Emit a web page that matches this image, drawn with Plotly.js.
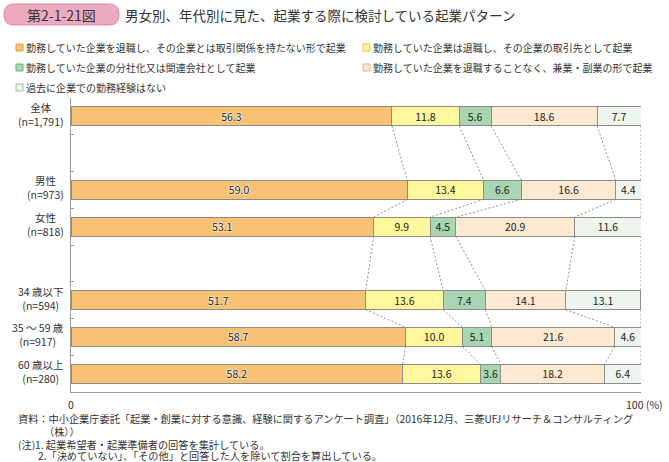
<!DOCTYPE html>
<html><head><meta charset="utf-8">
<script src="https://cdn.plot.ly/plotly-3.0.1.min.js"></script>
<style>html,body{margin:0;padding:0;background:#fff}#chart{width:669px;height:462px}</style>
</head><body><div id="chart"></div>
<script>
// ---- data ----
const groups = ['全体<br>(n=1,791)', '男性<br>(n=973)', '女性<br>(n=818)', '34 歳以下<br>(n=594)', '35 ～ 59 歳<br>(n=917)', '60 歳以上<br>(n=280)'];
const seriesNames = [
  '勤務していた企業を退職し、その企業とは取引関係を持たない形で起業',
  '勤務していた企業は退職し、その企業の取引先として起業',
  '勤務していた企業の分社化又は関連会社として起業',
  '勤務していた企業を退職することなく、兼業・副業の形で起業',
  '過去に企業での勤務経験はない'
];
const s1 = [56.3, 59.0, 53.1, 51.7, 58.7, 58.2];
const s2 = [11.8, 13.4, 9.9, 13.6, 10.0, 13.6];
const s3 = [5.6, 6.6, 4.5, 7.4, 5.1, 3.6];
const s4 = [18.6, 16.6, 20.9, 14.1, 21.6, 18.2];
const s5 = [7.7, 4.4, 11.6, 13.1, 4.6, 6.4];
const series = [s1, s2, s3, s4, s5];
const xTickLabels = ['0', '100 (%)'];
const titleBadge = '第2-1-21図';
const titleText = '男女別、年代別に見た、起業する際に検討している起業パターン';
const notes = [
  '資料：中小企業庁委託「起業・創業に対する意識、経験に関するアンケート調査」（2016年12月、三菱UFJリサーチ＆コンサルティング',
  '（株））',
  '(注)1. 起業希望者・起業準備者の回答を集計している。',
  '2.「決めていない」、「その他」と回答した人を除いて割合を算出している。'
];

// ---- style ----
const fills = ['#F8C173', '#FFF79C', '#A8D5B2', '#FDE9D2', '#EDF5EC'];
const legendBorders = ['#E39A3E', '#D8C83A', '#6FAF7E', '#D9B48E', '#A8B8A8'];
const font = '"Noto Sans CJK JP", "Noto Sans", sans-serif';
const W = 669, H = 462, L = 71, R = 28, T = 98, B = 70;
const pw = W - L - R, ph = H - T - B;
const px = x => (x - L) / pw;
const py = y => (H - B - y) / ph;

// categories with spacer slots
const catArray = [groups[0], ' ', groups[1], groups[2], '  ', groups[3], groups[4], groups[5]];
const half = 0.26;

const traces = series.map((vals, i) => ({
  type: 'bar', orientation: 'h',
  x: vals, y: groups, name: seriesNames[i],
  width: half * 2,
  marker: {color: fills[i], line: {color: '#8c8c8c', width: 1}},
  text: vals.map(v => v.toFixed(1)),
  textposition: 'inside', insidetextanchor: 'middle', textangle: 0,
  textfont: {family: font, size: 10.5, color: '#222',
    shadow: i === 0 ? '0 0 2px #fff, 0 0 2px #fff, 0 0 1px #fff' : 'none'},
  hoverinfo: 'skip', showlegend: false, cliponaxis: false
}));

const shapes = [];
// connector dotted lines between adjacent bars
for (let g = 0; g < groups.length - 1; g++) {
  const yTop = catArray.indexOf(groups[g]) + half;
  const yBot = catArray.indexOf(groups[g + 1]) - half;
  let c1 = 0, c2 = 0;
  for (let k = 0; k < series.length; k++) {
    c1 += series[k][g]; c2 += series[k][g + 1];
    const a = k === series.length - 1 ? 100 : c1;
    const b = k === series.length - 1 ? 100 : c2;
    shapes.push({type: 'line', xref: 'x', yref: 'y', x0: a, x1: b, y0: yTop, y1: yBot,
      line: {color: '#8f8f8f', width: 1, dash: '2px,2px'}, layer: 'below'});
  }
}
// badge
(function () {
  const x0 = 4, x1 = 119, y0 = 4, y1 = 25, r = 10;
  const P = (x, y) => px(x) + ',' + py(y);
  const path = 'M' + P(x0 + r, y0) + ' L' + P(x1 - r, y0) + ' Q' + P(x1, y0) + ' ' + P(x1, y0 + r) +
    ' L' + P(x1, y1 - r) + ' Q' + P(x1, y1) + ' ' + P(x1 - r, y1) + ' L' + P(x0 + r, y1) +
    ' Q' + P(x0, y1) + ' ' + P(x0, y1 - r) + ' L' + P(x0, y0 + r) + ' Q' + P(x0, y0) + ' ' + P(x0 + r, y0) + ' Z';
  shapes.push({type: 'path', xref: 'paper', yref: 'paper', path: path,
    fillcolor: '#EDAAC0', line: {color: '#D98BA6', width: 1}});
})();

const annotations = [];
annotations.push({xref: 'paper', yref: 'paper', x: px(61), y: py(15), text: titleBadge, showarrow: false,
  xanchor: 'center', yanchor: 'middle', font: {family: font, size: 14, color: '#333'}});
annotations.push({xref: 'paper', yref: 'paper', x: px(123), y: py(15), text: titleText, showarrow: false,
  xanchor: 'left', yanchor: 'middle', font: {family: font, size: 13.5, color: '#333'}});

// legend (manual)
const colX = [16, 363], rowY = [47.5, 67.5, 87.5];
seriesNames.forEach((n, i) => {
  const cx = colX[i % 2], cy = rowY[Math.floor(i / 2)];
  shapes.push({type: 'rect', xref: 'paper', yref: 'paper', x0: px(cx), x1: px(cx + 7), y0: py(cy - 3.5), y1: py(cy + 3.5),
    fillcolor: fills[i], line: {color: legendBorders[i], width: 1}});
  annotations.push({xref: 'paper', yref: 'paper', x: px(cx + 9), y: py(cy), text: n, showarrow: false, borderpad: 0,
    xanchor: 'left', yanchor: 'middle', font: {family: font, size: 10, color: '#333'}});
});

// y labels (centered multi-line)
groups.forEach(g => {
  annotations.push({xref: 'paper', yref: 'y', x: 0, xshift: -5, y: g, yshift: 2, text: g, showarrow: false,
    xanchor: 'right', yanchor: 'middle', align: 'center', font: {family: font, size: 10.5, color: '#333'}});
});

// x labels
annotations.push({xref: 'x', yref: 'paper', x: 0, y: py(404), text: xTickLabels[0], showarrow: false,
  xanchor: 'center', yanchor: 'middle', font: {family: font, size: 10.5, color: '#333'}});
annotations.push({xref: 'x', yref: 'paper', x: 100, xshift: -17, y: py(404), text: xTickLabels[1], showarrow: false,
  xanchor: 'left', yanchor: 'middle', font: {family: font, size: 10.5, color: '#333'}});

// notes
const noteX = [17, 43, 17, 37], noteY = [418, 431, 444, 455.5];
notes.forEach((t, i) => {
  annotations.push({xref: 'paper', yref: 'paper', x: px(noteX[i]), y: py(noteY[i]), text: t, showarrow: false, borderpad: 0,
    height: 12.5, valign: 'middle',
    xanchor: 'left', yanchor: 'middle', font: {family: font, size: 10.2, color: '#333'}});
});

const layout = {
  width: W, height: H,
  margin: {l: L, r: R, t: T, b: B, pad: 0},
  paper_bgcolor: '#fff', plot_bgcolor: '#fff',
  barmode: 'stack',
  showlegend: false,
  uniformtext: {minsize: 10.5, mode: 'show'},
  font: {family: font, color: '#333'},
  xaxis: {range: [0, 100], showgrid: false, zeroline: false, showline: true, linecolor: '#9a9a9a', linewidth: 1,
    tickvals: [100], ticks: 'inside', ticklen: 6, tickcolor: '#9a9a9a', showticklabels: false, fixedrange: true},
  yaxis: {type: 'category', categoryorder: 'array', categoryarray: catArray, range: [7.5, -0.5],
    showgrid: false, zeroline: false, showline: true, linecolor: '#9a9a9a', linewidth: 1,
    ticks: 'inside', tickson: 'boundaries', ticklen: 3, tickcolor: '#9a9a9a', showticklabels: false, fixedrange: true},
  shapes: shapes,
  annotations: annotations
};

Plotly.newPlot('chart', traces, layout, {staticPlot: true, displayModeBar: false});
</script></body></html>
